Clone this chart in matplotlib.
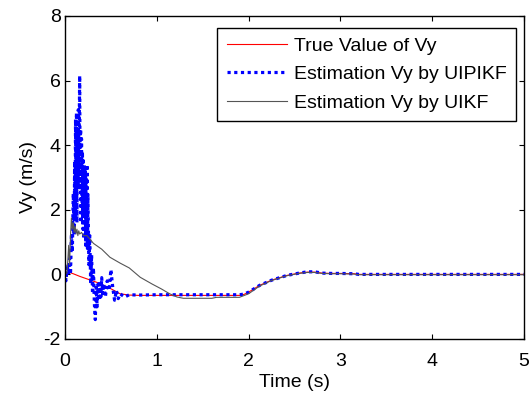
import matplotlib
matplotlib.use("Agg")
import matplotlib.pyplot as plt

# true value of Vy
t_true = [0.00, 0.03, 0.06, 0.09, 0.16, 0.25, 0.35, 0.49, 0.55, 0.60, 0.70, 0.80,
          1.90, 1.95, 2.00, 2.12, 2.25, 2.42, 2.55, 2.64, 2.72, 2.80, 2.90, 3.00,
          3.15, 3.20, 5.00]
vy_true = [0.00, 0.05, 0.05, 0.02, -0.06, -0.15, -0.25, -0.43, -0.52, -0.60, -0.64, -0.65,
           -0.65, -0.62, -0.55, -0.34, -0.18, -0.03, 0.04, 0.07, 0.07, 0.04, 0.03, 0.03,
           0.02, 0.00, 0.00]

# UIPIKF estimate
t_uipikf = [0.000, 0.010, 0.020, 0.030, 0.040, 0.050, 0.060, 0.070, 0.080, 0.090,
            0.100, 0.105, 0.110, 0.115, 0.120, 0.125, 0.130, 0.135, 0.140, 0.145,
            0.150, 0.155, 0.160, 0.165, 0.170, 0.175, 0.180, 0.185, 0.190, 0.195,
            0.200, 0.205, 0.210, 0.215, 0.220, 0.225, 0.230, 0.235, 0.240, 0.245,
            0.250, 0.260, 0.270, 0.280, 0.290, 0.300, 0.310, 0.320, 0.330, 0.340,
            0.350, 0.360, 0.370, 0.380, 0.390, 0.400, 0.410, 0.420, 0.440, 0.460,
            0.480, 0.500, 0.520, 0.540, 0.560, 0.580, 0.600, 0.650, 0.700, 0.800,
            1.000, 1.900, 1.950, 2.000, 2.120, 2.250, 2.420, 2.550, 2.640, 2.720,
            2.800, 2.900, 3.000, 3.150, 3.200, 5.000]
vy_uipikf = [0.30, -0.20, 0.10, 0.20, 0.05, 0.50, 0.00, 1.20, 0.70, 2.50,
             1.20, 3.50, 1.80, 4.80, 2.40, 5.00, 1.60, 4.40, 2.80, 5.10,
             3.20, 4.60, 6.15, 2.60, 4.50, 1.60, 4.20, 2.20, 3.80, 1.40,
             3.60, 1.10, 3.40, 1.80, 3.20, 0.90, 3.00, 1.20, 3.40, 0.80,
             2.50, 0.30, 1.20, -0.30, 0.60, -0.60, 0.20, -0.90, -1.40, -0.40,
             -1.00, -0.30, -0.80, -0.20, -0.70, -0.10, -0.60, -0.30, -0.70, -0.20,
             -0.50, 0.15, -0.40, -0.80, -0.50, -0.75, -0.60, -0.70, -0.63, -0.64,
             -0.63, -0.63, -0.61, -0.55, -0.34, -0.18, -0.03, 0.04, 0.08, 0.08,
             0.04, 0.03, 0.03, 0.02, 0.00, 0.00]

# UIKF estimate
t_uikf = [0.00, 0.02, 0.03, 0.04, 0.05, 0.06, 0.07, 0.08, 0.09, 0.10,
          0.11, 0.12, 0.13, 0.14, 0.15, 0.16, 0.18, 0.20, 0.24, 0.31,
          0.40, 0.49, 0.60, 0.70, 0.82, 0.95, 1.05, 1.14, 1.22, 1.29,
          1.60, 1.65, 1.90, 2.00, 2.12, 2.25, 2.42, 2.55, 2.64, 2.72,
          2.80, 2.90, 3.00, 3.15, 3.20, 5.00]
vy_uikf = [0.00, 0.05, 0.40, 0.90, 0.30, 1.20, 1.75, 1.40, 1.60, 1.30,
           1.50, 1.25, 1.40, 1.20, 1.35, 1.25, 1.30, 1.20, 1.20, 0.96,
           0.78, 0.53, 0.35, 0.20, -0.09, -0.30, -0.45, -0.60, -0.70, -0.74,
           -0.74, -0.71, -0.71, -0.60, -0.36, -0.19, -0.04, 0.03, 0.06, 0.06,
           0.03, 0.02, 0.02, 0.01, -0.01, -0.01]

x_ticks = [0, 1, 2, 3, 4, 5]
y_ticks = [-2, 0, 2, 4, 6, 8]

plt.rcParams.update(
    {
        "font.family": ["Liberation Sans", "DejaVu Sans"],
        "font.size": 14,
        "axes.unicode_minus": False,
        "axes.linewidth": 1.0,
        "xtick.direction": "in",
        "ytick.direction": "in",
        "xtick.top": True,
        "ytick.right": True,
        "xtick.major.size": 3.5,
        "ytick.major.size": 3.5,
        "xtick.major.pad": 10,
        "ytick.major.pad": 3,
    }
)

fig = plt.figure(figsize=(5.31, 3.94), dpi=100)
ax = fig.add_axes([0.1224, 0.1396, 0.8644, 0.8198])

ax.plot(t_true, vy_true, color="red", linewidth=0.8, label="True Value of Vy")
ax.plot(t_uipikf, vy_uipikf, color="blue", linewidth=2.3, linestyle=(0, (1.0, 1.1)),
        dash_capstyle="butt", label="Estimation Vy by UIPIKF")
ax.plot(t_uikf, vy_uikf, color="#555555", linewidth=0.8, label="Estimation Vy by UIKF")

ax.set_xlim(0, 5)
ax.set_ylim(-2, 8)
ax.set_xticks(x_ticks)
ax.set_yticks(y_ticks)
ax.set_xlabel("Time (s)", labelpad=3)
ax.set_ylabel("Vy (m/s)", labelpad=5)

leg = ax.legend(loc="upper right", bbox_to_anchor=(0.983, 0.964), fancybox=False,
                edgecolor="black", framealpha=1.0, handlelength=3.1, borderpad=0.5,
                labelspacing=0.55, handletextpad=0.35, borderaxespad=0)
leg.get_frame().set_linewidth(1.0)

fig.savefig("out.png", dpi=100)
